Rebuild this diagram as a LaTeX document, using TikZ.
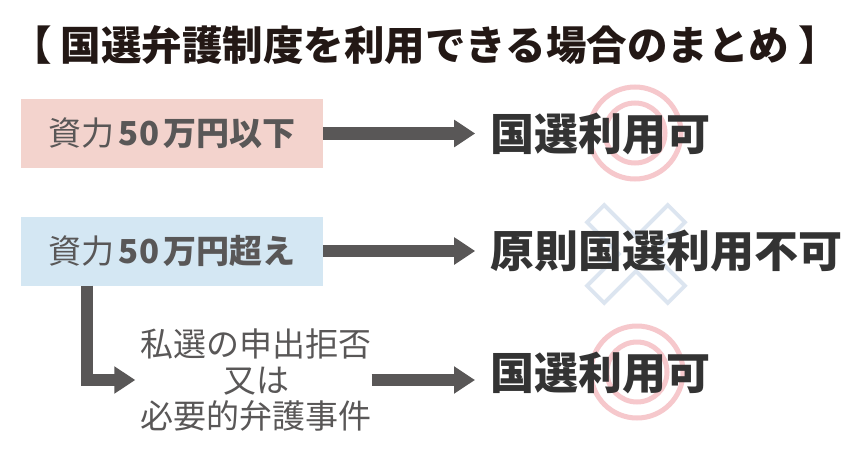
\documentclass[tikz,border=0pt]{standalone}
\usepackage{fontspec}
\newfontfamily\jpfont{Noto Sans CJK JP}
\usepackage{tikz}
\usetikzlibrary{arrows.meta, positioning}
\definecolor{boxPink}{HTML}{F3D3CD}
\definecolor{boxBlue}{HTML}{D4E7F3}
\definecolor{grayArrow}{HTML}{595757}
\definecolor{grayText}{HTML}{595757}
\definecolor{darkResult}{HTML}{333333}
\definecolor{titleBlack}{HTML}{231815}
\definecolor{markPink}{HTML}{F6C8CC}
\definecolor{markBlue}{HTML}{DCE5F0}

\begin{document}
\begin{tikzpicture}[x=1pt, y=-1pt,
        cond/.style={minimum width=302pt, minimum height=69pt, inner sep=0pt,
            text=grayText, font=\jpfont\fontsize{33}{35}\selectfont},
        res/.style={inner sep=0pt, anchor=west, text=darkResult,
            font=\jpfont\bfseries\fontsize{44}{48}\selectfont},
        flow/.style={draw=grayArrow, line width=12.5pt, -{Triangle[length=21pt, width=26pt]}}
    ]
        \fill[white] (0,0) rectangle (850,460);
        \useasboundingbox (0,0) rectangle (850,460);

        \draw[markPink, line width=5pt] (635,133) circle[radius=46pt] (635,133) circle[radius=30pt];
        \draw[markPink, line width=5pt] (637,372) circle[radius=46pt] (637,372) circle[radius=30pt];
        \foreach \ang in {45,-45}
            \draw[markBlue, line width=8pt, shift={(636,254)}, rotate=\ang] (-55,-10) rectangle (55,10);
        \foreach \ang in {45,-45}
            \fill[white, shift={(636,254)}, rotate=\ang] (-55,-10) rectangle (55,10);

        \node[text=titleBlack, font=\jpfont\bfseries\fontsize{40.5}{42}\selectfont] (title) at (425,45)
            {【 国選弁護制度を利用できる場合のまとめ 】};

        \node[cond, fill=boxPink] (low) at (172,133.5) {資力\hspace{4pt}{\bfseries 50\hspace{4pt}万円以下}};
        \node[cond, fill=boxBlue] (high) at (172,251) {資力\hspace{4pt}{\bfseries 50\hspace{4pt}万円超え}};
        \node[res, right=167pt of low] (okLow) {国選利用可};
        \node[res, right=167pt of high] (ngHigh) {原則国選利用不可};
        \node[align=center, inner sep=0pt, text=grayText, font=\jpfont\fontsize{33}{36}\selectfont] (refuse) at (256,380)
            {私選の申出拒否\\又は\\必要的弁護事件};
        \node[res] (okHigh) at (490,373) {国選利用可};

        \draw[flow, shorten >=15pt] (low) -- (okLow);
        \draw[flow, shorten >=15pt] (high) -- (ngHigh);
        \draw[flow, shorten >=5pt] ([xshift=66pt]high.south west) |- (refuse.west);
        \draw[flow, shorten >=15pt] (refuse.east) -- (refuse.east -| okHigh.west);
    \end{tikzpicture}
\end{document}
